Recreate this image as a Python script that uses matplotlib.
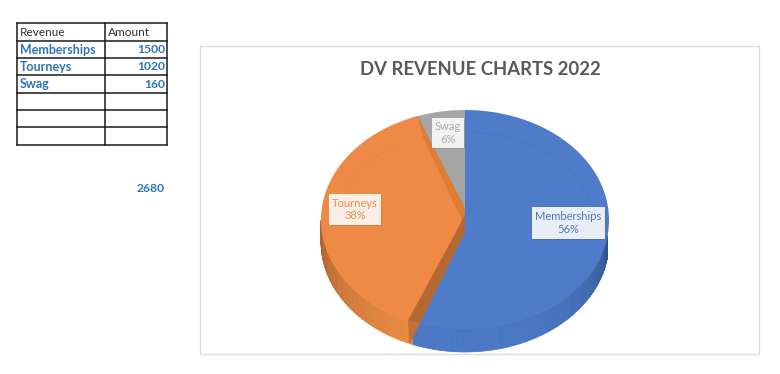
import numpy as np
import matplotlib
matplotlib.use('Agg')
import matplotlib.pyplot as plt
from matplotlib.patches import Rectangle

# table and pie data
revenue = ['Memberships', 'Tourneys', 'Swag']
amounts = [1500, 1020, 160]
total = 2680
title = 'DV REVENUE CHARTS 2022'
header = ['Revenue', 'Amount']
colors = ['#4e7cc8', '#ee8a45', '#a5a5a5']
label_colors = ['#4f76bd', '#ee8a4f', '#adadad']

W, H = 780, 374
CX, CY, RX, RY = 465, 220, 144, 110
APEX = (465, 210)
DEPTH = 22

plt.rcParams['font.family'] = ['Lato', 'DejaVu Sans']


def rim(a1, a2, n=120, rx=RX, ry=RY, dy=0):
    t = np.radians(np.linspace(a1, a2, n))
    return CX + rx * np.cos(t), CY - ry * np.sin(t) + dy


def mix(c1, c2, f):
    c1 = np.array(matplotlib.colors.to_rgb(c1))
    c2 = np.array(matplotlib.colors.to_rgb(c2))
    return tuple(c1 + (c2 - c1) * f)


def side_band(ax, a1, a2, c1, c2, power=1.0, n=70):
    # rim side, drawn as small quads so the shade can run along it
    a = np.linspace(a1, a2, n + 1)
    for i in range(n):
        x, y = rim(a[i], a[i + 1], 4)
        xs = np.r_[x, x[::-1]]
        ys = np.r_[y, y[::-1] + DEPTH]
        col = mix(c1, c2, (i / (n - 1)) ** power)
        ax.fill(xs, ys, facecolor=col, edgecolor=col, lw=0.5, zorder=2)


def draw_table(ax):
    xs = [17, 105, 167]
    ys = [23, 41, 58, 75, 93, 110, 127, 145]
    for x in xs:
        ax.plot([x, x], [ys[0], ys[-1]], color='#1a1a1a', lw=1.1, zorder=5)
    for y in ys:
        ax.plot([xs[0], xs[-1]], [y, y], color='#1a1a1a', lw=1.1, zorder=5)
    ax.text(20, 32, header[0], fontsize=8.6, color='#333333', va='center')
    ax.text(108, 32, header[1], fontsize=8.6, color='#333333', va='center')
    for i, name in enumerate(revenue):
        ym = (ys[i + 1] + ys[i + 2]) / 2
        ax.text(20, ym, name, fontsize=9, fontweight='bold',
                color='#2e75b6', va='center')
        ax.text(165, ym, str(amounts[i]), fontsize=8.7, fontweight='bold',
                color='#2e75b6', va='center', ha='right')
    ax.text(165, 188.5, str(total), fontsize=8.7, fontweight='bold',
            color='#2e75b6', va='center', ha='right')


def draw_pie(ax):
    fracs = np.array(amounts) / sum(amounts)
    ends = 90 - 360 * np.cumsum(fracs)
    starts = np.r_[90, ends[:-1]]

    # sides first, the top faces go over them
    side_band(ax, ends[0], -8, '#4a78c4', '#2c5088', power=4)
    side_band(ax, 180, 360 + ends[0], '#9a5a2a', '#ea8a42', power=0.6)

    # blue
    x, y = rim(starts[0], ends[0])
    ax.fill(np.r_[APEX[0], x], np.r_[APEX[1], y], color=colors[0], lw=0, zorder=3)
    # grey
    x, y = rim(starts[2], ends[2])
    ax.fill(np.r_[APEX[0], x], np.r_[APEX[1], y], color=colors[2], lw=0, zorder=3)

    # orange, its corner sits lower than the apex of the others
    # the far end runs a little past its angle, as the perspective does
    far = ends[1] - 2.3
    x, y = rim(starts[1], far)
    ax.fill(np.r_[462, x], np.r_[221, y], color=colors[1], lw=0, zorder=4)

    # inner walls of the orange slice
    xe, ye = rim(starts[1], starts[1], 1)
    xs, ys = rim(far, far, 1)
    ax.fill([xs[0], 465, 465, 462, 423], [ys[0], 208, 218, 221, 137],
            color='#dc7c35', lw=0, zorder=5)
    ax.fill([462, 465, 465, 420, 410, xe[0] - 4], [221, 214, 232, 323, 343, 320],
            color='#b5682f', lw=0, zorder=5)
    ax.fill([xe[0] - 4, 420, 410, 409], [320, 323, 343, 342],
            color='#c0713a', lw=0, zorder=5)

    # faint bevel lines on the faces
    x, y = rim(88, 8, rx=127, ry=88)
    ax.plot(x, y, color='#4976c0', lw=0.5, zorder=4)
    x, y = rim(123, 178, rx=127, ry=88)
    ax.plot(x, y, color='#e6843f', lw=0.5, zorder=5)
    x, y = rim(-108, -28)
    ax.plot(x, y, color='#4470b5', lw=0.5, zorder=4)


def draw_labels(ax):
    boxes = [(532, 207, 73, 32), (329, 194, 52, 31), (432, 118, 32, 30)]
    pcts = np.round(100 * np.array(amounts) / sum(amounts)).astype(int)
    for name, pct, box, col in zip(revenue, pcts, boxes, label_colors):
        x, y, w, h = box
        ax.add_patch(Rectangle((x + 1, y + 1), w, h, fc='#000000', alpha=0.08,
                               lw=0, zorder=6))
        ax.add_patch(Rectangle((x, y), w, h, fc='white', alpha=0.88, lw=0, zorder=7))
        ax.text(x + w / 2, y + h / 2, '{}\n{}%'.format(name, pct), color=col,
                fontsize=8, ha='center', va='center', linespacing=1.15, zorder=8)


fig = plt.figure(figsize=(W / 100, H / 100), dpi=100)
ax = fig.add_axes([0, 0, 1, 1])
ax.set_xlim(0, W)
ax.set_ylim(H, 0)
ax.axis('off')

draw_table(ax)

ax.add_patch(Rectangle((200, 46), 559, 308, fc='white', ec='#dcdcdc', lw=1.0))
ax.text(480, 69, title, fontsize=13.3, fontweight='bold', color='#595959',
        ha='center', va='center')

draw_pie(ax)
draw_labels(ax)

fig.savefig('out.png', dpi=100)
